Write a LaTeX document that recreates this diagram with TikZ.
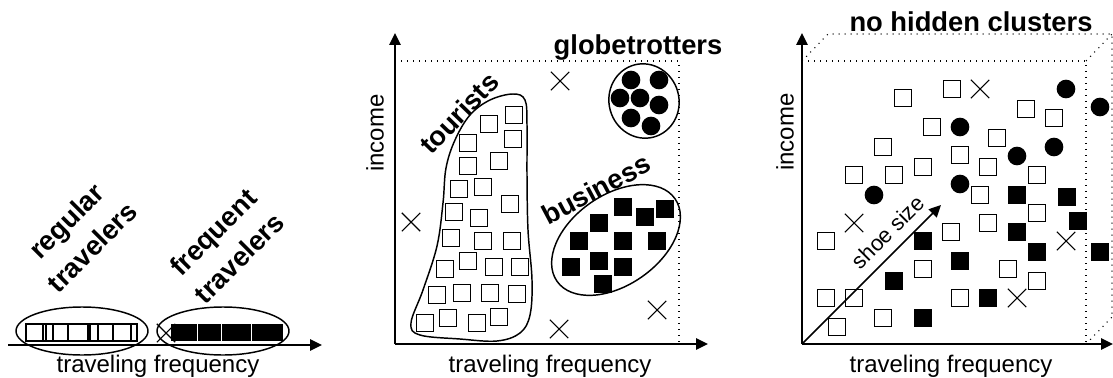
\documentclass[tikz,border=0pt]{standalone}
\usepackage{fontspec}
\setmainfont{Liberation Sans}
\usetikzlibrary{arrows.meta,shapes.misc,shapes.geometric}
\begin{document}
\begin{tikzpicture}[x=0.75pt,y=-0.75pt,
  axis/.style={line width=1.3pt,-{Triangle[length=9pt,width=8.5pt]}},
  dotline/.style={line width=0.8pt,dash pattern=on 0.8pt off 3.7pt},
  osq/.style={draw,line width=1pt,fill=white,inner sep=0pt,minimum size=12.4pt},
  fsq/.style={fill=black,inner sep=0pt,minimum size=13.5pt},
  dot/.style={circle,fill=black,inner sep=0pt,minimum size=14pt},
  xm/.style={cross out,draw,line width=0.8pt,inner sep=0pt,minimum size=13pt},
  lab/.style={font=\fontsize{18}{21}\selectfont},
  blab/.style={font=\bfseries\fontsize{20.5}{27.5}\selectfont,align=center},
  group/.style={draw,line width=1.1pt}
]
\useasboundingbox (0,0) rectangle (1113,378);

%% ---------- left panel ----------
\coordinate (l-o) at (8,345);
\coordinate (l-x) at (322,345);
\draw[axis] (l-o) -- (l-x);
\node[lab,anchor=base] (l-xl) at (158,372) {traveling frequency};
\node[group,ellipse,inner sep=0pt,minimum width=99pt,minimum height=36pt] (reg) at (82,331) {};
\node[group,ellipse,inner sep=0pt,minimum width=99pt,minimum height=36pt] (frq) at (223,331) {};
% regular travelers: overlapping open squares
\draw[line width=0.9pt] (26,324) rectangle (137,341);
\foreach \xx in {43,46,53,68,88,90,98,113,131}
  \draw[line width=0.9pt] (\xx,324) -- (\xx,341);
% frequent travelers
\node[xm] (l-cross) at (166,333) {};
\fill (171,324) rectangle (283,341);
\foreach \xx in {197,221,251}
  \draw[white,line width=0.6pt] (\xx,324) -- (\xx,341);
\node[blab,rotate=45] (l-reg) at (79,234) {regular\\travelers};
\node[blab,rotate=45] (l-frq) at (226,245) {frequent\\travelers};

%% ---------- middle panel ----------
\coordinate (m-o) at (395,344);
\coordinate (m-y) at (395,33);
\coordinate (m-x) at (708,344);
\draw[dotline] (395,61) -- (679,61) -- (679,344);
\draw[axis] (m-o) -- (m-y);
\draw[axis] (m-o) -- (m-x);
\node[lab,rotate=90] (m-yl) at (375,133) {income};
\node[lab,anchor=base] (m-xl) at (550,372) {traveling frequency};
\node[blab,anchor=base] (m-glob) at (638,55) {globetrotters};
\node[blab,rotate=46] (m-tour) at (459,113) {tourists};
\node[blab,rotate=28] (m-bus) at (596,189) {business};

% tourists blob
\draw[group] plot[smooth cycle, tension=0.6] coordinates {(513,94) (525,100) (527,125) (527,175) (528,230) (532,280) (530,315) (520,333) (497,341) (460,339) (420,335) (411,323) (423,290) (437,246) (443,203) (446,168) (455,140) (470,115) (490,100)};
\foreach \p [count=\i] in {(514,115),(489,124),(513,139),(468,143),(499,161),(468,166),(459,189),(483,187),(510,204),(454,212),(479,218),(451,238),(483,241),(512,241),(468,261),(445,269),(494,267),(520,267),(437,295),(462,293),(490,293),(517,294),(425,323),(448,318),(477,323),(499,317)}
  \node[osq] (t\i) at \p {};

% globetrotters
\node[group,ellipse,inner sep=0pt,minimum width=52.5pt,minimum height=56pt,rotate=15] (globe) at (644,101) {};
\foreach \p [count=\i] in {(631,80),(659,80),(620,98),(640,98),(659,105),(631,118),(651,126)}
  \node[dot] (g\i) at \p {};

% business
\node[group,ellipse,inner sep=0pt,minimum width=108pt,minimum height=67.5pt,rotate=35] (bus) at (616,240) {};
\foreach \p [count=\i] in {(623,207),(645,217),(665,209),(599,223),(579,241),(623,241),(657,241),(571,267),(599,261),(623,267),(603,284)}
  \node[fsq] (b\i) at \p {};

% outliers
\foreach \p [count=\i] in {(560,81),(411,222),(559,329),(657,310)}
  \node[xm] (mx\i) at \p {};

%% ---------- right panel ----------
\coordinate (r-o) at (802,344);
\coordinate (r-y) at (802,33);
\coordinate (r-x) at (1113,344);
\coordinate (r-s) at (941,205);
\draw[dotline] (802,61) -- (1086,61) -- (1086,344);
\draw[dotline] (802,61) -- (828,34) -- (1112,34) -- (1112,317);
\draw[dotline] (1086,61) -- (1112,34);
\draw[dotline] (1086,344) -- (1112,317);
\draw[axis] (r-o) -- (r-y);
\draw[axis] (r-o) -- (r-x);
\node[lab,rotate=90] (r-yl) at (785,132) {income};
\node[lab,anchor=base] (r-xl) at (951,372) {traveling frequency};
\node[blab,anchor=base] (r-title) at (971,32) {no hidden clusters};

\foreach \p [count=\i] in {(903,98),(952,89),(1026,109),(1054,118),(932,127),(997,138),(883,147),(960,155),(988,167),(854,175),(894,175),(923,167),(1037,175),(980,195),(1037,213),(988,223),(951,232),(826,241),(923,269),(1008,269),(1037,281),(826,298),(854,298),(837,327),(883,318),(960,298)}
  \node[osq] (rs\i) at \p {};
\foreach \p [count=\i] in {(1066,89),(1100,107),(960,127),(1054,147),(1017,156),(960,184),(874,195)}
  \node[dot] (rc\i) at \p {};
\foreach \p [count=\i] in {(1017,195),(1067,197),(1078,221),(1017,232),(1037,252),(1100,252),(923,241),(960,261),(894,281),(923,318),(988,298)}
  \node[fsq] (rf\i) at \p {};
\foreach \p [count=\i] in {(980,89),(854,223),(1066,241),(1017,298)}
  \node[xm] (rx\i) at \p {};

\draw[line width=1.3pt,-{Triangle[length=9pt,width=8.5pt]}] (r-o) -- (r-s);
\node[lab,font=\fontsize{16.5}{19}\selectfont,rotate=45] (r-shoe) at (888,232) {shoe size};
\end{tikzpicture}
\end{document}
